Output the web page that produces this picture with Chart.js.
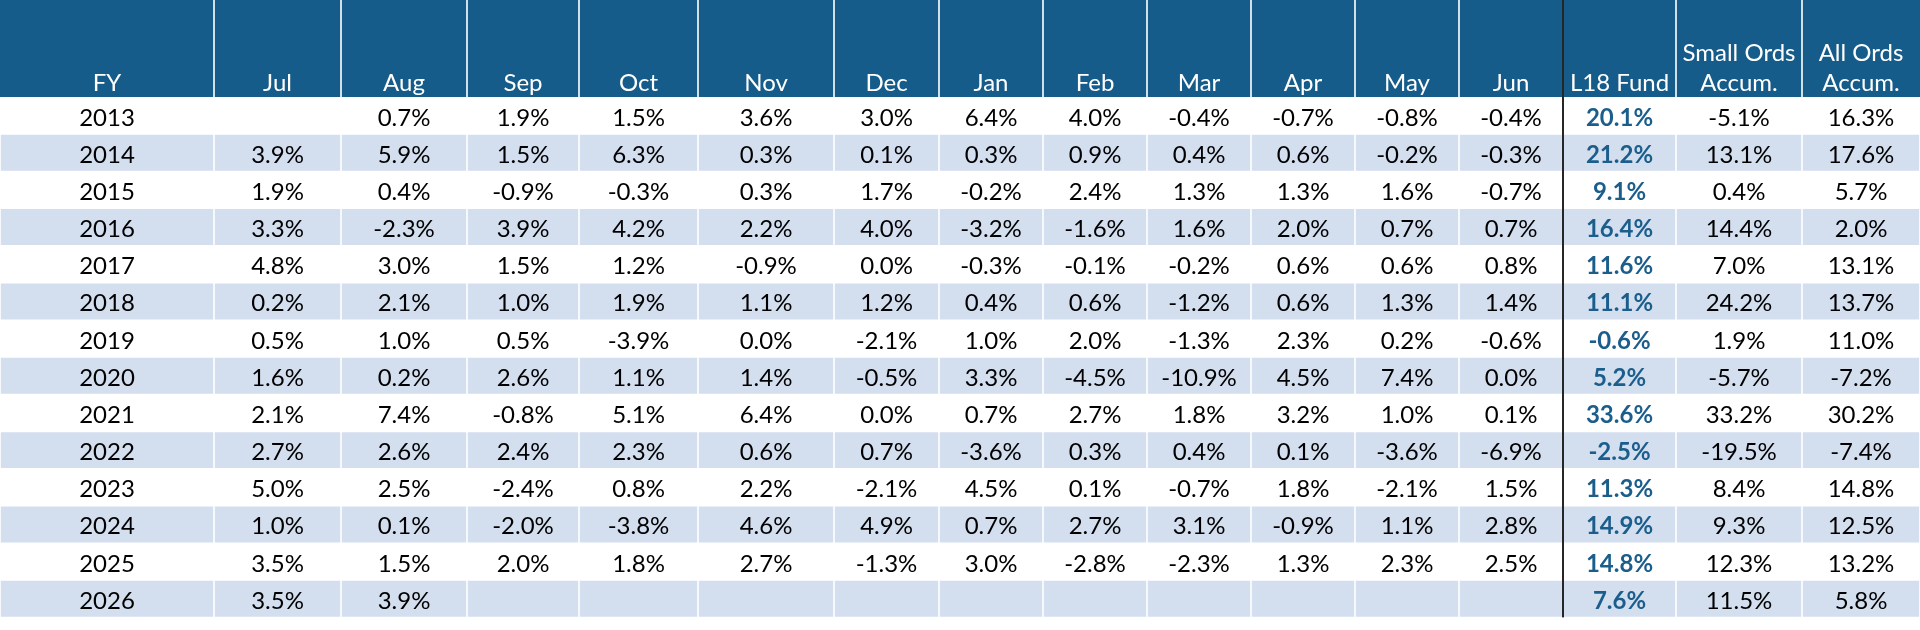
<!DOCTYPE html>
<html>
<head>
<meta charset="utf-8">
<title>L18 Fund monthly returns</title>
<script src="https://cdn.jsdelivr.net/npm/chart.js@4.4.1/dist/chart.umd.min.js"></script>
<style>
  html, body { margin: 0; padding: 0; background: #fff; }
  #tabela { display: block; }
</style>
</head>
<body>
<canvas id="tabela" width="1920" height="630"></canvas>
<script>
// dados da tabela (retornos mensais em %)
const anos = ['2013', '2014', '2015', '2016', '2017', '2018', '2019', '2020', '2021', '2022', '2023', '2024', '2025', '2026'];
const cabecalho = ['FY', 'Jul', 'Aug', 'Sep', 'Oct', 'Nov', 'Dec', 'Jan', 'Feb', 'Mar', 'Apr', 'May', 'Jun', 'L18 Fund', ['Small Ords', 'Accum.'], ['All Ords', 'Accum.']];

const jul = [null, 3.9, 1.9, 3.3, 4.8, 0.2, 0.5, 1.6, 2.1, 2.7, 5.0, 1.0, 3.5, 3.5];
const aug = [0.7, 5.9, 0.4, -2.3, 3.0, 2.1, 1.0, 0.2, 7.4, 2.6, 2.5, 0.1, 1.5, 3.9];
const sep = [1.9, 1.5, -0.9, 3.9, 1.5, 1.0, 0.5, 2.6, -0.8, 2.4, -2.4, -2.0, 2.0, null];
const oct = [1.5, 6.3, -0.3, 4.2, 1.2, 1.9, -3.9, 1.1, 5.1, 2.3, 0.8, -3.8, 1.8, null];
const nov = [3.6, 0.3, 0.3, 2.2, -0.9, 1.1, 0.0, 1.4, 6.4, 0.6, 2.2, 4.6, 2.7, null];
const dec = [3.0, 0.1, 1.7, 4.0, 0.0, 1.2, -2.1, -0.5, 0.0, 0.7, -2.1, 4.9, -1.3, null];
const jan = [6.4, 0.3, -0.2, -3.2, -0.3, 0.4, 1.0, 3.3, 0.7, -3.6, 4.5, 0.7, 3.0, null];
const feb = [4.0, 0.9, 2.4, -1.6, -0.1, 0.6, 2.0, -4.5, 2.7, 0.3, 0.1, 2.7, -2.8, null];
const mar = [-0.4, 0.4, 1.3, 1.6, -0.2, -1.2, -1.3, -10.9, 1.8, 0.4, -0.7, 3.1, -2.3, null];
const apr = [-0.7, 0.6, 1.3, 2.0, 0.6, 0.6, 2.3, 4.5, 3.2, 0.1, 1.8, -0.9, 1.3, null];
const may = [-0.8, -0.2, 1.6, 0.7, 0.6, 1.3, 0.2, 7.4, 1.0, -3.6, -2.1, 1.1, 2.3, null];
const jun = [-0.4, -0.3, -0.7, 0.7, 0.8, 1.4, -0.6, 0.0, 0.1, -6.9, 1.5, 2.8, 2.5, null];
const l18Fund = [20.1, 21.2, 9.1, 16.4, 11.6, 11.1, -0.6, 5.2, 33.6, -2.5, 11.3, 14.9, 14.8, 7.6];
const smallOrds = [-5.1, 13.1, 0.4, 14.4, 7.0, 24.2, 1.9, -5.7, 33.2, -19.5, 8.4, 9.3, 12.3, 11.5];
const allOrds = [16.3, 17.6, 5.7, 2.0, 13.1, 13.7, 11.0, -7.2, 30.2, -7.4, 14.8, 12.5, 13.2, 5.8];

const colunas = [anos, jul, aug, sep, oct, nov, dec, jan, feb, mar, apr, may, jun, l18Fund, smallOrds, allOrds];

// layout (larguras relativas das colunas) e estilos
const larguras = [214, 127, 126, 112, 119, 136, 105, 104, 104, 104, 104, 104, 104, 113, 126, 118];
const corCabecalho = '#165c8a';
const corFaixa = '#d3deef';
const corFundo = '#1b5e8c';
const fonte = 'Lato, "Open Sans", sans-serif';
const tamanho = 24;
const colunaFundo = 13;

// bordas das colunas no eixo x
const bordas = [0];
for (let i = 0; i < larguras.length; i++) {
  bordas.push(bordas[i] + larguras[i]);
}
const total = bordas[bordas.length - 1];

// uma serie de barras flutuantes por coluna, so nas linhas listradas
const datasets = colunas.map(function (col, j) {
  return {
    label: 'col' + j,
    data: anos.map(function (a, i) {
      return i % 2 === 1 ? [bordas[j] + 0.8, bordas[j + 1] - 0.8] : null;
    }),
    backgroundColor: corFaixa,
    borderWidth: 0,
    grouped: false,
    barPercentage: 0.968,
    categoryPercentage: 1
  };
});

function formatar(v, j) {
  if (v === null || v === undefined) return '';
  if (j === 0) return v;
  return v.toFixed(1) + '%';
}

const textoTabela = {
  id: 'textoTabela',
  afterDatasetsDraw(chart) {
    const ctx = chart.ctx;
    const x = chart.scales.x;
    const y = chart.scales.y;
    const area = chart.chartArea;

    ctx.save();

    // cabecalho
    ctx.fillStyle = corCabecalho;
    ctx.fillRect(area.left, 0, area.right - area.left, area.top);
    ctx.fillStyle = '#ffffff';
    for (let j = 1; j < bordas.length - 1; j++) {
      const px = x.getPixelForValue(bordas[j]);
      ctx.fillRect(px - 0.8, 0, 1.6, area.top);
    }

    ctx.textAlign = 'center';
    ctx.textBaseline = 'alphabetic';
    ctx.font = tamanho + 'px ' + fonte;
    ctx.fillStyle = '#ffffff';
    cabecalho.forEach(function (rot, j) {
      const cx = x.getPixelForValue((bordas[j] + bordas[j + 1]) / 2);
      const linhas = Array.isArray(rot) ? rot : [rot];
      linhas.forEach(function (l, k) {
        ctx.fillText(l, cx, area.top - 6 - (linhas.length - 1 - k) * 30);
      });
    });

    // celulas
    colunas.forEach(function (col, j) {
      const cx = x.getPixelForValue((bordas[j] + bordas[j + 1]) / 2);
      if (j === colunaFundo) {
        ctx.font = 'bold ' + tamanho + 'px ' + fonte;
        ctx.fillStyle = corFundo;
      } else {
        ctx.font = tamanho + 'px ' + fonte;
        ctx.fillStyle = '#000000';
      }
      col.forEach(function (v, i) {
        const cy = y.getPixelForValue(i);
        ctx.fillText(formatar(v, j), cx, cy + 10);
      });
    });

    // linha divisoria antes do L18 Fund
    const dx = x.getPixelForValue(bordas[colunaFundo]);
    ctx.fillStyle = '#262626';
    ctx.fillRect(dx - 1, 0, 2, area.bottom);

    ctx.restore();
  }
};

new Chart(document.getElementById('tabela'), {
  type: 'bar',
  data: {
    labels: anos,
    datasets: datasets
  },
  options: {
    indexAxis: 'y',
    responsive: false,
    animation: false,
    devicePixelRatio: 1,
    layout: {
      padding: { top: 97, bottom: 12.6, left: 0, right: 0 }
    },
    plugins: {
      legend: { display: false },
      tooltip: { enabled: false }
    },
    scales: {
      x: { type: 'linear', min: 0, max: total, display: false },
      y: { type: 'category', display: false, offset: true }
    }
  },
  plugins: [textoTabela]
});
</script>
</body>
</html>
